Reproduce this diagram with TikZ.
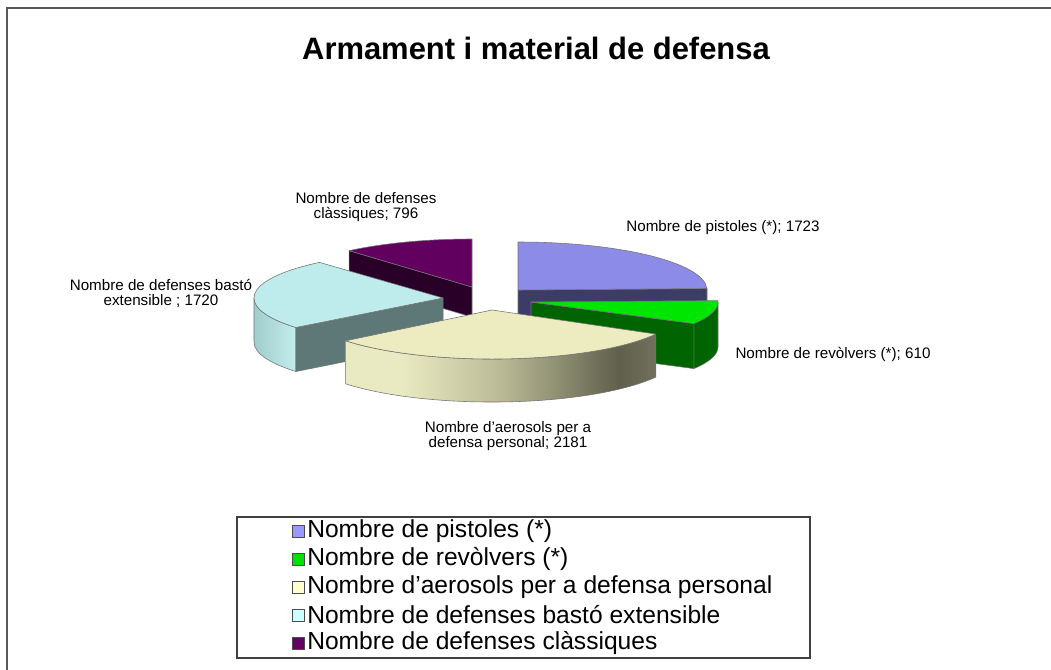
\documentclass[tikz,border=0pt]{standalone}
\usepackage{fontspec}
\setmainfont{Liberation Sans}
\usepackage{tikz}
\usepackage{xcolor}

\definecolor{pistTop}{RGB}{140,140,232}
\definecolor{pistSide}{RGB}{60,60,102}
\definecolor{pistLeg}{RGB}{153,153,255}
\definecolor{revTop}{RGB}{0,230,0}
\definecolor{revSide}{RGB}{0,100,0}
\definecolor{revLeg}{RGB}{0,225,0}
\definecolor{aeroTop}{RGB}{236,236,192}
\definecolor{aeroLight}{RGB}{234,234,194}
\definecolor{aeroMid}{RGB}{186,186,150}
\definecolor{aeroDark}{RGB}{96,96,76}
\definecolor{aeroEdge}{RGB}{112,112,92}
\definecolor{aeroLeg}{RGB}{255,255,204}
\definecolor{bastoTop}{RGB}{190,236,236}
\definecolor{bastoSide}{RGB}{196,236,236}
\definecolor{bastoSideDk}{RGB}{160,205,205}
\definecolor{bastoFace}{RGB}{94,120,120}
\definecolor{bastoLeg}{RGB}{204,255,255}
\definecolor{clasTop}{RGB}{98,0,96}
\definecolor{clasSide}{RGB}{40,0,40}
\definecolor{clasLeg}{RGB}{102,0,102}

\pgfdeclarehorizontalshading{aeroside}{100bp}{color(0bp)=(aeroLight); color(34bp)=(aeroLight); color(50bp)=(aeroMid); color(69bp)=(aeroDark); color(75bp)=(aeroEdge); color(100bp)=(aeroEdge)}

\begin{document}
\begin{tikzpicture}[x=0.025cm,y=0.025cm]
\tikzstyle{every node}+=[inner sep=0pt]
\tikzstyle{edge}=[draw=black!55, line width=0.4pt, line join=round]
\tikzstyle{lbl}=[font=\fontsize{10.8}{10.8}\selectfont, align=center]
\tikzstyle{legsq}=[draw=black!70, line width=0.6pt, minimum size=8.5pt]
\tikzstyle{legtxt}=[anchor=west, font=\fontsize{17.5}{17.5}\selectfont]
\useasboundingbox (0,0) rectangle (1051,-670);
\draw [black!65, line width=1.4pt] (7,-670) -- (7,-8) -- (1051,-8);
\node (title) at (536,-48) {\fontsize{22}{22}\selectfont\bfseries Armament i material de defensa};
% pistoles
\filldraw [edge, fill=pistSide] (518,-290) -- (707,-288.5) -- (707,-318.5) -- (518,-320) -- cycle;
\filldraw [edge, fill=pistTop] (518,-290) -- (518,-242) arc [start angle=90, end angle=1.8, x radius=189, y radius=48] -- cycle;
% classiques
\filldraw [edge, fill=clasSide] (472,-287) -- (349.2,-250.7) -- (349.2,-280.7) -- (472,-317) -- cycle;
\filldraw [edge, fill=clasTop] (472,-287) -- (472,-239) arc [start angle=90, end angle=130.8, x radius=188, y radius=48] -- cycle;
% basto
\shadedraw [edge, left color=bastoSideDk, right color=bastoSide] (254,-298) arc [start angle=180, end angle=218.9, x radius=189, y radius=47] -- ++(0,-44) arc [start angle=218.9, end angle=180, x radius=189, y radius=47] -- cycle;
\filldraw [edge, fill=bastoFace] (443,-298) -- (295.9,-327.5) -- (295.9,-371.5) -- (443,-342) -- cycle;
\filldraw [edge, fill=bastoTop] (443,-298) -- (319.5,-262.4) arc [start angle=130.8, end angle=218.9, x radius=189, y radius=47] -- cycle;
% revolvers
\filldraw [edge, fill=revSide] (693.9,-323.6) arc [start angle=-29.4, end angle=0, x radius=187, y radius=44] -- ++(0,-45) arc [start angle=0, end angle=-29.4, x radius=187, y radius=44] -- cycle;
\filldraw [edge, fill=revSide] (531,-302) -- (693.9,-323.6) -- (693.9,-368.6) -- (531,-347) -- cycle;
\filldraw [edge, fill=revTop] (531,-302) -- (693.9,-323.6) arc [start angle=-29.4, end angle=1.8, x radius=187, y radius=44] -- cycle;
% aerosols
\shadedraw [edge, shading=aeroside] (345.7,-340.8) arc [start angle=-141.1, end angle=-29.4, x radius=188, y radius=49] -- ++(0,-43) arc [start angle=-29.4, end angle=-141.1, x radius=188, y radius=49] -- cycle;
\filldraw [edge, fill=aeroTop] (492,-310) -- (345.7,-340.8) arc [start angle=-141.1, end angle=-29.4, x radius=188, y radius=49] -- cycle;
% labels
\node [lbl] (clasLbl) at (366,-207) {Nombre de defenses\\clàssiques; 796};
\node [lbl] (pistLbl) at (723,-228) {Nombre de pistoles (*); 1723};
\node [lbl] (bastoLbl) at (161,-293) {Nombre de defenses bastó\\extensible ; 1720};
\node [lbl] (revLbl) at (833,-354) {Nombre de revòlvers (*); 610};
\node [lbl] (aeroLbl) at (508,-436) {Nombre d’aerosols per a\\defensa personal; 2181};
% legend
\draw [black!75, line width=1pt] (237,-517) rectangle (810,-658);
\node [legsq, fill=pistLeg] (sq1) at (298,-531) {};
\node [legtxt] (leg1) at (307,-531) {Nombre de pistoles (*)};
\node [legsq, fill=revLeg] (sq2) at (298,-559) {};
\node [legtxt] (leg2) at (307,-559) {Nombre de revòlvers (*)};
\node [legsq, fill=aeroLeg] (sq3) at (298,-587) {};
\node [legtxt] (leg3) at (307,-587) {Nombre d’aerosols per a defensa personal};
\node [legsq, fill=bastoLeg] (sq4) at (298,-615) {};
\node [legtxt] (leg4) at (307,-615) {Nombre de defenses bastó extensible};
\node [legsq, fill=clasLeg] (sq5) at (298,-643) {};
\node [legtxt] (leg5) at (307,-643) {Nombre de defenses clàssiques};
\end{tikzpicture}
\end{document}
